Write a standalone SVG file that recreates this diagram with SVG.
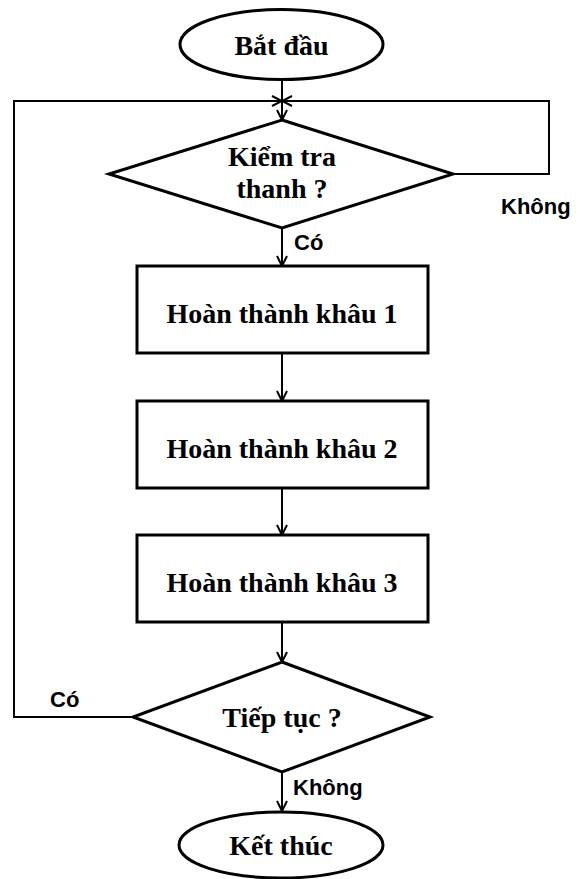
<svg xmlns="http://www.w3.org/2000/svg" width="587" height="879" viewBox="0 0 587 879">
<defs>
<style>
.shape{fill:#fff;stroke:#000;stroke-width:3}
.line{fill:none;stroke:#000;stroke-width:2}
.t{font-family:"Liberation Serif","Times New Roman",serif;font-weight:bold;font-size:28px;fill:#000;text-anchor:middle}
.lbl{font-family:"Liberation Sans",Arial,sans-serif;font-weight:bold;font-size:22px;fill:#000}
</style>
<marker id="arr" viewBox="0 0 12 12" refX="11" refY="6" markerWidth="12" markerHeight="12" markerUnits="userSpaceOnUse" orient="auto">
<path d="M1,1 L11,6 L1,11" fill="none" stroke="#000" stroke-width="2"/>
</marker>
</defs>
<rect width="587" height="879" fill="#fff"/>
<g id="connectors">
<path class="line" d="M282,80 V120" marker-end="url(#arr)"/>
<path class="line" d="M133,717 H14 V101 H282" marker-end="url(#arr)"/>
<path class="line" d="M453,174 H549 V101 H282" marker-end="url(#arr)"/>
<path class="line" d="M282,228 V266" marker-end="url(#arr)"/>
<path class="line" d="M282,353 V401" marker-end="url(#arr)"/>
<path class="line" d="M282,488 V535" marker-end="url(#arr)"/>
<path class="line" d="M282,622 V662" marker-end="url(#arr)"/>
<path class="line" d="M282,772 V811" marker-end="url(#arr)"/>
<text class="lbl" x="501" y="214">Không</text>
<text class="lbl" x="294" y="250">Có</text>
<text class="lbl" x="50" y="707">Có</text>
<text class="lbl" x="293" y="795">Không</text>
</g>
<g id="start">
<ellipse class="shape" cx="281.5" cy="44.5" rx="101.5" ry="35"/>
<text class="t" x="281.5" y="55">Bắt đầu</text>
</g>
<g id="check">
<polygon class="shape" points="282,120 453,174 282,228 109,174"/>
<text class="t" x="282" y="166">Kiểm tra</text>
<text class="t" x="282" y="198">thanh ?</text>
</g>
<g id="step1">
<rect class="shape" x="137" y="266" width="291" height="87"/>
<text class="t" x="282" y="323">Hoàn thành khâu 1</text>
</g>
<g id="step2">
<rect class="shape" x="137" y="401" width="291" height="87"/>
<text class="t" x="282" y="458">Hoàn thành khâu 2</text>
</g>
<g id="step3">
<rect class="shape" x="137" y="535" width="291" height="87"/>
<text class="t" x="282" y="592">Hoàn thành khâu 3</text>
</g>
<g id="continue">
<polygon class="shape" points="282,662 430,717 282,772 133,717"/>
<text class="t" x="282" y="727">Tiếp tục ?</text>
</g>
<g id="end">
<ellipse class="shape" cx="281" cy="845" rx="102" ry="33"/>
<text class="t" x="281" y="855">Kết thúc</text>
</g>
</svg>
